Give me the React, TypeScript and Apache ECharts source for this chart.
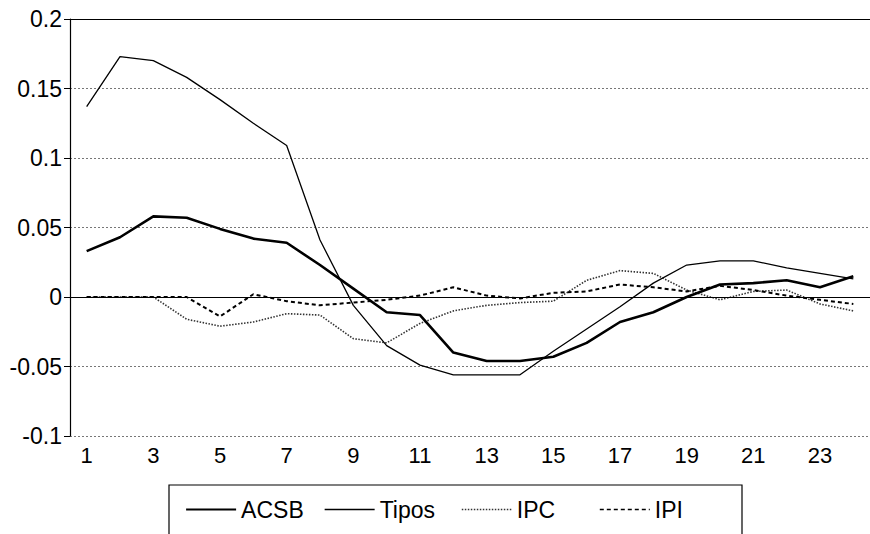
import React, { useEffect, useRef } from "react";
import * as echarts from "echarts";

const categories = ["1","2","3","4","5","6","7","8","9","10","11","12","13","14","15","16","17","18","19","20","21","22","23","24"];
const acsb = [0.033, 0.043, 0.058, 0.057, 0.049, 0.042, 0.039, 0.023, 0.006, -0.011, -0.013, -0.040, -0.046, -0.046, -0.043, -0.033, -0.018, -0.011, 0.000, 0.009, 0.010, 0.012, 0.007, 0.015];
const tipos = [0.137, 0.173, 0.170, 0.158, 0.142, 0.125, 0.109, 0.041, -0.006, -0.035, -0.049, -0.056, -0.056, -0.056, -0.039, -0.023, -0.007, 0.010, 0.023, 0.026, 0.026, 0.021, 0.017, 0.013];
const ipc = [0, 0, 0, -0.016, -0.021, -0.018, -0.012, -0.013, -0.030, -0.033, -0.019, -0.010, -0.006, -0.004, -0.003, 0.012, 0.019, 0.017, 0.005, -0.002, 0.004, 0.005, -0.005, -0.010];
const ipi = [0, 0, 0, 0, -0.014, 0.002, -0.003, -0.006, -0.004, -0.002, 0.001, 0.007, 0.001, -0.001, 0.003, 0.004, 0.009, 0.007, 0.004, 0.008, 0.005, 0.001, -0.002, -0.005];
const refLines = [0, 0.2];

const FONT = "'Liberation Sans', Arial, sans-serif";

export default function App() {
  const ref = useRef<HTMLDivElement>(null);
  useEffect(() => {
    if (!ref.current) return;
    const chart = echarts.init(ref.current, null, { renderer: "svg" });
    const legendBase = {
      orient: "horizontal",
      top: 493,
      itemWidth: 50,
      itemHeight: 14,
      itemStyle: { opacity: 0, borderWidth: 0 },
      textStyle: { fontFamily: FONT, fontSize: 23, color: "#000" },
      selectedMode: false,
    };
    chart.setOption({
      animation: false,
      backgroundColor: "#fff",
      grid: { left: 70, top: 19, width: 804, height: 417, containLabel: false },
      graphic: [
        {
          type: "polyline",
          shape: { points: [[169, 540], [169, 485], [742, 485], [742, 540]] },
          style: { stroke: "#000", lineWidth: 1.2, fill: "none" },
          silent: true,
        },
      ],
      legend: [
        { ...legendBase, left: 180, data: ["ACSB"], lineStyle: { width: 2.2, color: "#000" } },
        { ...legendBase, left: 319, data: ["Tipos"], lineStyle: { width: 1.3, color: "#000" } },
        { ...legendBase, left: 456, data: ["IPC"], lineStyle: { width: 1.6, color: "#333" } },
        { ...legendBase, left: 594, data: ["IPI"], lineStyle: { width: 1.6, color: "#000" } },
      ],
      xAxis: {
        type: "category",
        data: categories,
        boundaryGap: true,
        axisLine: { lineStyle: { color: "#000", width: 1.2 } },
        axisTick: { alignWithLabel: true, length: 6, interval: 0, lineStyle: { color: "#000" } },
        axisLabel: { interval: 1, fontFamily: FONT, fontSize: 22, color: "#000", margin: 8 },
        splitLine: { show: false },
      },
      yAxis: {
        type: "value",
        min: -0.1,
        max: 0.2,
        interval: 0.05,
        axisLine: { show: true, lineStyle: { color: "#000", width: 1.2 } },
        axisTick: { show: true, length: 6, lineStyle: { color: "#000" } },
        axisLabel: { fontFamily: FONT, fontSize: 23, color: "#000", margin: 8 },
        splitLine: { show: true, lineStyle: { color: "#777", type: [2, 2], width: 1 } },
      },
      series: [
        {
          name: "ACSB",
          type: "line",
          data: acsb,
          symbol: "none",
          lineStyle: { color: "#000", width: 2.6 },
          itemStyle: { color: "#000" },
          markLine: {
            silent: true,
            symbol: "none",
            label: { show: false },
            lineStyle: { color: "#000", type: "solid", width: 1.2 },
            data: refLines.map((v) => ({ yAxis: v })),
          },
          z: 5,
        },
        {
          name: "Tipos",
          type: "line",
          data: tipos,
          symbol: "none",
          lineStyle: { color: "#000", width: 1.3 },
          itemStyle: { color: "#000" },
          z: 4,
        },
        {
          name: "IPC",
          type: "line",
          data: ipc,
          symbol: "none",
          lineStyle: { color: "#333", width: 1.6, type: [1.5, 1.5] },
          itemStyle: { color: "#333" },
          z: 3,
        },
        {
          name: "IPI",
          type: "line",
          data: ipi,
          symbol: "none",
          lineStyle: { color: "#000", width: 2, type: [4, 3] },
          itemStyle: { color: "#000" },
          z: 3,
        },
      ],
    });
    return () => chart.dispose();
  }, []);
  return (
    <div
      ref={ref}
      style={{ position: "fixed", left: 0, top: 0, width: 870, height: 534, background: "#fff" }}
    />
  );
}
